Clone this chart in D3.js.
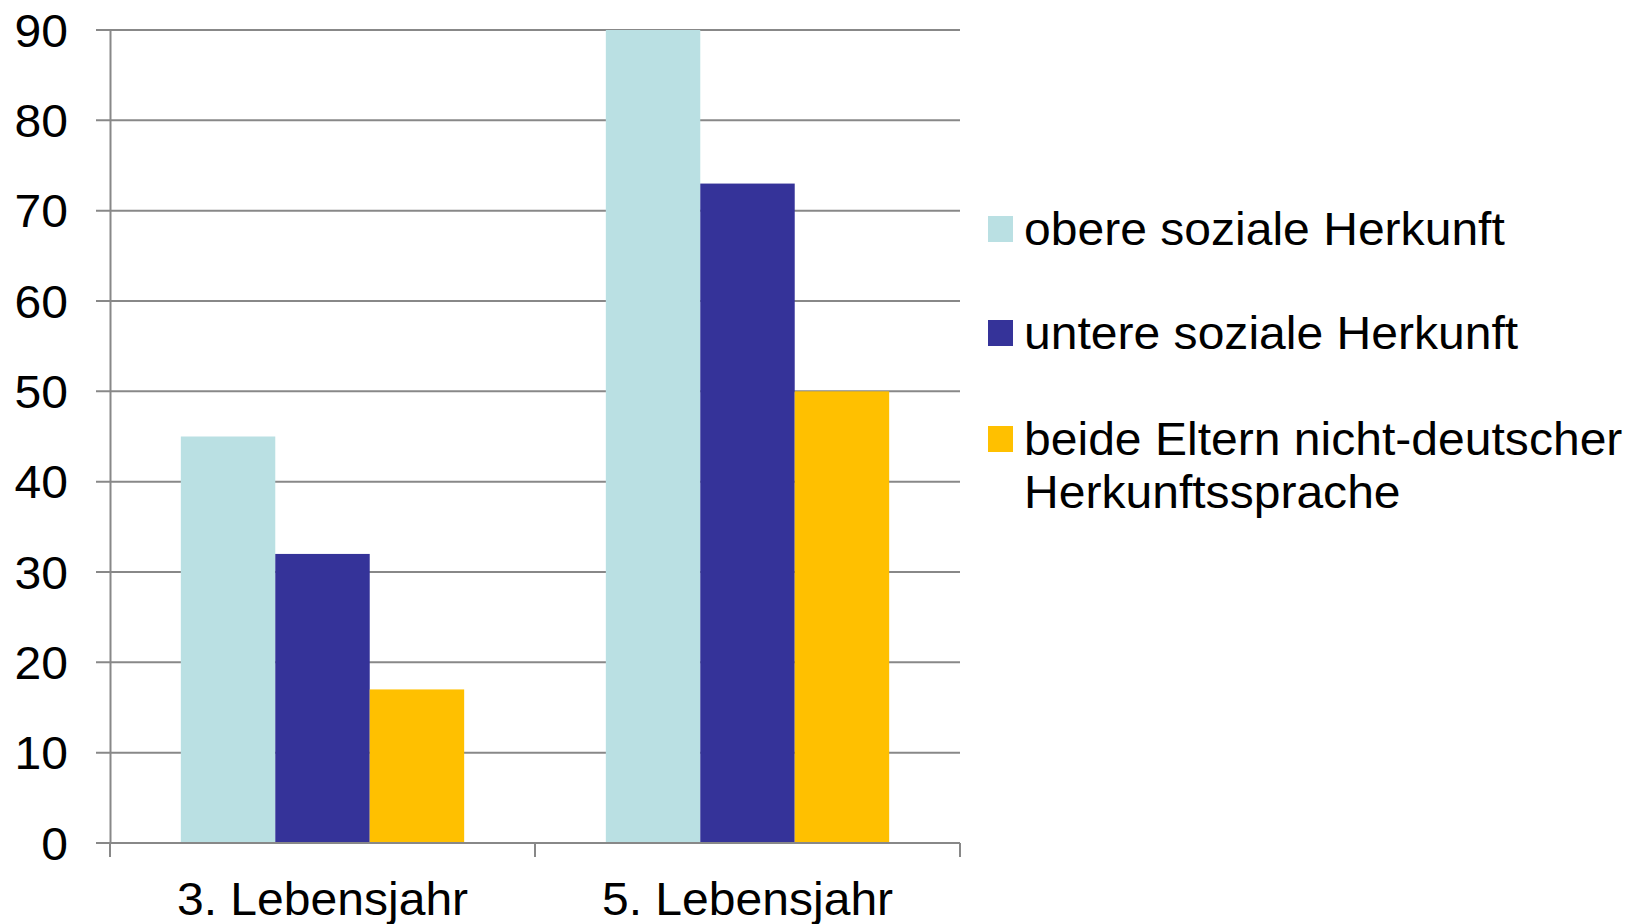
<!DOCTYPE html>
<html>
<head>
<meta charset="utf-8">
<script src="https://cdn.jsdelivr.net/npm/d3@7"></script>
<style>
  html, body { margin: 0; padding: 0; background: #fff; }
  svg text { font-family: "Liberation Sans", Arial, sans-serif; fill: #000; }
</style>
</head>
<body>
<svg id="chart" width="1634" height="924"></svg>
<script>
const categories = ["3. Lebensjahr", "5. Lebensjahr"];
const seriesNames = ["obere soziale Herkunft", "untere soziale Herkunft", "beide Eltern nicht-deutscher\nHerkunftssprache"];
const seriesColors = ["#BAE0E3", "#353399", "#FFC000"];
const obere = [45, 90];
const untere = [32, 73];
const beide = [17, 50];
const yTicks = [0, 10, 20, 30, 40, 50, 60, 70, 80, 90];

(function () {
const series = [obere, untere, beide];
const sx = 1.045; // horizontal stretch of the text

const svg = d3.select("#chart");
const mLeft = 110, mRight = 960, mTop = 30, mBottom = 843;
const gridColor = "#888888";

const x0 = d3.scaleBand().domain(categories).range([mLeft, mRight]).paddingInner(0).paddingOuter(0);
const bw = x0.bandwidth();
// Excel-style gap width 150%: bar width = band / (3 + 1.5)
const barW = bw / (series.length + 1.5);
const x1 = d3.scaleBand().domain(d3.range(series.length))
  .range([0, barW * series.length]);

const y = d3.scaleLinear().domain([0, 90]).range([mBottom, mTop]);

// gridlines
svg.append("g").selectAll("line").data(yTicks).join("line")
  .attr("x1", mLeft - 14).attr("x2", mRight)
  .attr("y1", d => y(d)).attr("y2", d => y(d))
  .attr("stroke", gridColor).attr("stroke-width", 2);

// bars
categories.forEach((c, ci) => {
  const offset = x0(c) + (bw - barW * series.length) / 2;
  svg.append("g").selectAll("rect").data(series.map((s, si) => ({si, v: s[ci]}))).join("rect")
    .attr("x", d => offset + x1(d.si))
    .attr("width", barW)
    .attr("y", d => y(d.v))
    .attr("height", d => y(0) - y(d.v))
    .attr("fill", d => seriesColors[d.si]);
});

// y axis
const yAxis = d3.axisLeft(y).tickValues(yTicks).tickSize(0).tickPadding(0);
const gy = svg.append("g").attr("transform", `translate(${mLeft},0)`).call(yAxis);
gy.select(".domain").attr("stroke", gridColor).attr("stroke-width", 2);
gy.selectAll("text").attr("x", 0).attr("dy", "0.35em")
  .attr("transform", `translate(-42,0) scale(${sx},1)`)
  .style("font-size", "46px").style("font-family", "'Liberation Sans', Arial, sans-serif").attr("fill", "#000");

// x axis
const gx = svg.append("g").attr("transform", `translate(0,${mBottom})`);
gx.append("line").attr("x1", mLeft - 14).attr("x2", mRight).attr("y1", 0).attr("y2", 0)
  .attr("stroke", gridColor).attr("stroke-width", 2);
const bounds = [mLeft, ...categories.map(c => x0(c) + bw)];
gx.selectAll("line.tk").data(bounds).join("line").attr("class", "tk")
  .attr("x1", d => d).attr("x2", d => d).attr("y1", 0).attr("y2", 14)
  .attr("stroke", gridColor).attr("stroke-width", 2);
gx.selectAll("text").data(categories).join("text")
  .attr("transform", d => `translate(${x0(d) + bw / 2},72) scale(${sx},1)`)
  .attr("text-anchor", "middle").style("font-size", "46px")
  .text(d => d);

// legend
const legY = [245, 349, 455];
const leg = svg.append("g");
seriesNames.forEach((name, i) => {
  leg.append("rect").attr("x", 988).attr("y", legY[i] - 29).attr("width", 25).attr("height", 26)
    .attr("fill", seriesColors[i]);
  const lines = name.split("\n");
  const t = leg.append("text").attr("transform", `translate(1024,${legY[i]}) scale(${sx},1)`)
    .style("font-size", "46px");
  lines.forEach((ln, li) => {
    t.append("tspan").attr("x", 0).attr("dy", li === 0 ? 0 : 53).text(ln);
  });
});
})();
</script>
</body>
</html>
